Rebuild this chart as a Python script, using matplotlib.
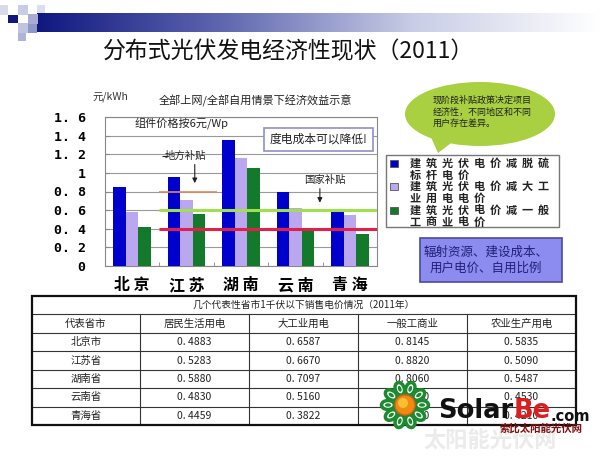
import numpy as np
import matplotlib
matplotlib.use('Agg')
import matplotlib.pyplot as plt
from matplotlib.patches import Rectangle, Ellipse, Polygon, Circle

plt.rcParams['font.family'] = ['Noto Sans CJK SC', 'DejaVu Sans']

# chart data
cities = ['北京', '江苏', '湖南', '云南', '青海']
minus_benchmark = [0.85, 0.96, 1.35, 0.80, 0.59]
minus_industry = [0.58, 0.71, 1.16, 0.62, 0.55]
minus_commercial = [0.42, 0.56, 1.05, 0.39, 0.34]
series_names = [['建筑光伏电价减脱硫', '标杆电价'],
                ['建筑光伏电价减大工', '业用电电价'],
                ['建筑光伏电价减一般', '工商业电价']]
yticks = [0, 0.2, 0.4, 0.6, 0.8, 1.0, 1.2, 1.4, 1.6]
ytick_labels = ['0', '0. 2', '0. 4', '0. 6', '0. 8', '1', '1. 2', '1. 4', '1. 6']

# table data
table_title = '几个代表性省市1千伏以下销售电价情况（2011年）'
table_header = ['代表省市', '居民生活用电', '大工业用电', '一般工商业', '农业生产用电']
provinces = ['北京市', '江苏省', '湖南省', '云南省', '青海省']
resident = [0.4883, 0.5283, 0.5880, 0.4830, 0.4459]
big_industry = [0.6587, 0.6670, 0.7097, 0.5160, 0.3822]
commercial = [0.8145, 0.8820, 0.8060, 0.7450, 0.5920]
agriculture = [0.5835, 0.5090, 0.5487, 0.4530, 0.4210]

W, H = 600, 463
fig = plt.figure(figsize=(6, 4.63), dpi=100, facecolor='white')

# background / decoration axes in pixel coordinates
bg = fig.add_axes([0, 0, 1, 1])
bg.set_xlim(0, W)
bg.set_ylim(H, 0)
bg.axis('off')

# header gradient bar
grad = np.linspace(0, 1, 256).reshape(1, -1)
cmap = matplotlib.colors.LinearSegmentedColormap.from_list('hdr', ['#101880', '#6068b0', '#c8cce6', '#ffffff'])
bg.imshow(grad, extent=(37, 600, 32, 13), aspect='auto', cmap=cmap, zorder=1)
for (x, y, w, h, c) in [(0, 5, 8, 10, '#d8daec'), (8, 15, 10, 8, '#101880'), (18, 5, 10, 10, '#c8cce6'),
                        (28, 14, 10, 10, '#a8acd4'), (18, 23, 10, 10, '#c0c4e0'), (28, 24, 9, 9, '#9096c8'),
                        (18, 33, 8, 8, '#b0b4d8'), (37, 5, 8, 8, '#dcdef0')]:
    bg.add_patch(Rectangle((x, y), w, h, facecolor=c, edgecolor='none', zorder=2))

bg.text(289, 52, '分布式光伏发电经济性现状（2011）', fontsize=16.5, ha='center', va='center', color='#111111')

# speech bubble
bg.add_patch(Polygon([[430, 135], [455, 140], [438, 153]], closed=True, facecolor='#a8d040', edgecolor='none', zorder=2))
bg.add_patch(Ellipse((480, 114), 150, 64, facecolor='#a8d040', edgecolor='none', zorder=2))
bg.text(433, 112, '现阶段补贴政策决定项目\n经济性，不同地区和不同\n用户存在差异。', fontsize=6.5, ha='left', va='center',
        color='#222222', linespacing=1.35, zorder=3)

# purple note box
bg.add_patch(Rectangle((420, 238), 142, 44, facecolor='#8c8cf0', edgecolor='#4a4a9a', lw=1.2, zorder=2))
bg.text(486, 260, '辐射资源、建设成本、\n用户电价、自用比例', fontsize=9, ha='center', va='center',
        color='#202078', linespacing=1.3, zorder=3)

# chart
ax = fig.add_axes([105 / W, 1 - 266 / H, 272 / W, 149 / H])
x = np.arange(len(cities))
bw = 0.23
colors = ['#0000cc', '#bba6f0', '#137a2c']
for i, (vals, c) in enumerate(zip([minus_benchmark, minus_industry, minus_commercial], colors)):
    ax.bar(x + (i - 1) * bw, vals, bw, color=c, zorder=3)
ax.set_xlim(-0.5, 4.5)
ax.set_ylim(0, 1.6)
ax.set_yticks(yticks)
ax.set_yticklabels(ytick_labels, family='DejaVu Sans Mono', fontsize=9.5, fontweight='bold')
ax.set_xticks(x)
ax.set_xticklabels([' '.join(c) for c in cities], fontsize=11.5, fontweight='bold')
ax.set_xticks(x[:-1] + 0.5, minor=True)
ax.tick_params(axis='x', which='major', length=0, pad=8)
ax.tick_params(axis='x', which='minor', direction='in', length=3, color='#888888')
ax.tick_params(axis='y', direction='in', length=3, color='#888888', pad=14)
ax.grid(axis='y', color='#999999', lw=0.8, zorder=0)
for s in ax.spines.values():
    s.set_color('#888888')

ax.hlines(0.8, 0.5, 1.55, color='#e08a5a', lw=1.2, zorder=4)
ax.hlines(0.6, 0.5, 4.5, color='#a0e050', lw=2.2, zorder=4)
ax.hlines(0.4, 0.5, 4.5, color='#e0204a', lw=2.2, zorder=4)

ax.text(0.11, 0.955, '组件价格按6元/Wp', transform=ax.transAxes, fontsize=8, ha='left', va='center', color='#222222', zorder=5)
ax.text(0.785, 0.85, '度电成本可以降低!', transform=ax.transAxes, fontsize=8.5, ha='center', va='center', color='#222222', zorder=5,
        bbox=dict(boxstyle='square,pad=0.45', facecolor='white', edgecolor='#9090c8', lw=1.2))
ax.text(0.98, 1.18, '地方补贴', fontsize=7.5, ha='center', va='center', color='#222222', zorder=5)
ax.hlines(1.18, 0.54, 0.66, color='#222222', lw=0.8, zorder=5)
ax.annotate('', xy=(1.15, 0.86), xytext=(1.15, 1.12),
            arrowprops=dict(arrowstyle='-|>', color='#222222', lw=0.8, mutation_scale=7), zorder=5)
ax.text(3.55, 0.92, '国家补贴', fontsize=7.5, ha='center', va='center', color='#222222', zorder=5)
ax.annotate('', xy=(3.45, 0.65), xytext=(3.45, 0.86),
            arrowprops=dict(arrowstyle='-|>', color='#222222', lw=0.8, mutation_scale=7), zorder=5)

bg.text(92, 97, '元/kWh', fontsize=7.5, ha='left', va='center', color='#333333')
bg.text(255, 101, '全部上网/全部自用情景下经济效益示意', fontsize=8, ha='center', va='center', color='#222222')

# legend (characters spaced out like the original)
bg.add_patch(Rectangle((386, 155), 173, 72, facecolor='white', edgecolor='#777777', lw=1.0, zorder=2))
for i, (lines, c) in enumerate(zip(series_names, colors)):
    yy = 163 + i * 23.5
    bg.add_patch(Rectangle((390, yy - 3.5), 8, 7, facecolor=c, edgecolor='#555555', lw=0.6, zorder=3))
    for li, line in enumerate(lines):
        for k, ch in enumerate(line):
            bg.text(415 + 16 * k, yy + li * 12, ch, fontsize=8, fontweight='bold', ha='center', va='center',
                    color='#222222', zorder=3)

# table
col_x = [32, 140, 249, 358, 467, 576]
row_y = [296, 314, 333] + [333 + 18.4 * (i + 1) for i in range(len(provinces))]
for yy in row_y[1:-1]:
    bg.plot([col_x[0], col_x[-1]], [yy, yy], color='#333333', lw=0.8, zorder=2)
for xx in col_x[1:-1]:
    bg.plot([xx, xx], [row_y[1], row_y[-1]], color='#333333', lw=0.8, zorder=2)
bg.add_patch(Rectangle((col_x[0], row_y[0]), col_x[-1] - col_x[0], row_y[-1] - row_y[0],
                       facecolor='none', edgecolor='#111111', lw=1.6, zorder=3))
bg.text((col_x[0] + col_x[-1]) / 2, (row_y[0] + row_y[1]) / 2, table_title, fontsize=7, ha='center', va='center', color='#222222')
for j, h in enumerate(table_header):
    bg.text((col_x[j] + col_x[j + 1]) / 2, (row_y[1] + row_y[2]) / 2, h, fontsize=7.5, ha='center', va='center', color='#222222')
cols = [provinces,
        [f'{v:.4f}'.replace('.', '. ') for v in resident],
        [f'{v:.4f}'.replace('.', '. ') for v in big_industry],
        [f'{v:.4f}'.replace('.', '. ') for v in commercial],
        [f'{v:.4f}'.replace('.', '. ') for v in agriculture]]
for j, col in enumerate(cols):
    for i, s in enumerate(col):
        bg.text((col_x[j] + col_x[j + 1]) / 2, (row_y[i + 2] + row_y[i + 3]) / 2, s, fontsize=7.5,
                ha='center', va='center', color='#222222')

# watermark logo
bg.text(490, 441, '太阳能光伏网', fontsize=16, fontweight='bold', ha='center', va='center', color='#ebebeb', zorder=4)
cx, cy = 405, 405
for k in range(10):
    a = 2 * np.pi * k / 10
    bg.add_patch(Ellipse((cx + 17 * np.cos(a), cy + 17 * np.sin(a)), 13, 9, angle=np.degrees(a),
                         facecolor='white', edgecolor='#1e8a30', lw=2.5, zorder=5))
    bg.add_patch(Ellipse((cx + 17 * np.cos(a), cy + 17 * np.sin(a)), 6, 3.5, angle=np.degrees(a),
                         facecolor='#1e8a30', edgecolor='none', zorder=6))
bg.add_patch(Circle((cx, cy), 10, facecolor='#f08a10', edgecolor='#e06010', lw=1, zorder=6))
bg.add_patch(Circle((cx - 2, cy - 2), 5, facecolor='#f8c030', edgecolor='none', zorder=6))
t1 = bg.text(438, 418, 'Solar', fontsize=18.5, fontweight='bold', family='DejaVu Sans', ha='left', va='baseline',
             color='#111111', zorder=6)
t2 = bg.annotate('Be', xy=(1, 0), xycoords=t1, fontsize=18.5, fontweight='bold', family='DejaVu Sans',
                 ha='left', va='bottom', color='#d82020', zorder=6)
bg.annotate('.com', xy=(1, 0), xycoords=t2, fontsize=10.5, fontweight='bold', family='DejaVu Sans',
            ha='left', va='bottom', color='#111111', zorder=6)
bg.text(541, 429, '索比太阳能光伏网', fontsize=7.5, fontweight='bold', ha='center', va='center', color='#7a1010', zorder=6)

fig.savefig('out.png', dpi=100, facecolor='white')
